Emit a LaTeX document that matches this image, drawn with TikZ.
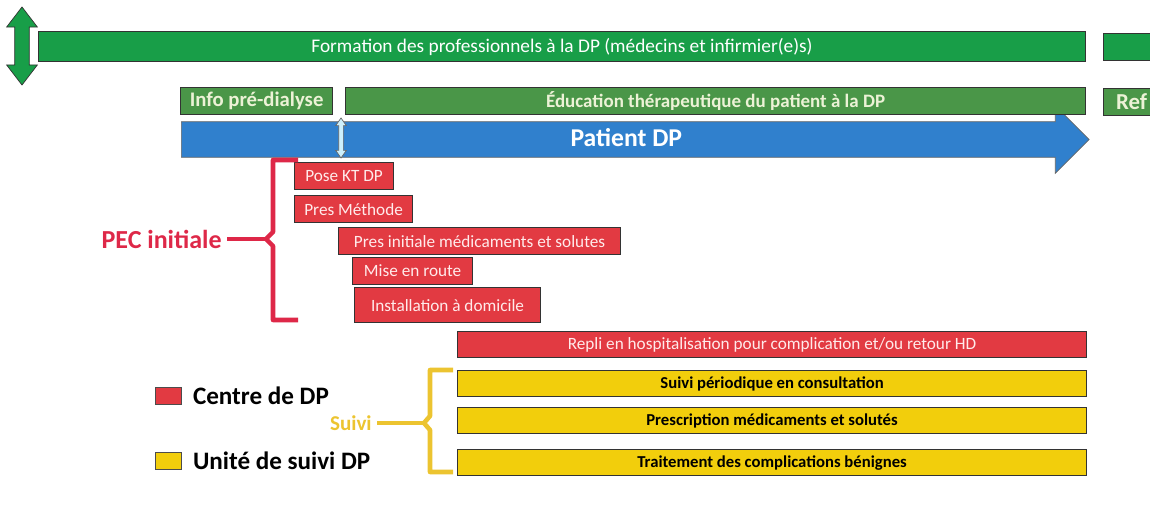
\documentclass[tikz,border=0pt]{standalone}
\usepackage{fontspec}
\setmainfont{Carlito}
\usetikzlibrary{shapes.arrows,positioning}
\definecolor{formgreen}{RGB}{24,158,72}
\definecolor{edugreen}{RGB}{74,150,72}
\definecolor{dpblue}{RGB}{48,128,205}
\definecolor{dpred}{RGB}{226,58,66}
\definecolor{dpyellow}{RGB}{242,206,12}
\definecolor{pecred}{RGB}{222,40,72}
\definecolor{suiviyellow}{RGB}{236,196,48}
\definecolor{lighttxt}{RGB}{236,242,214}

\begin{document}
\begin{tikzpicture}[x=0.02cm, y=-0.02cm,
  bar/.style={draw=black!80, line width=0.7pt, inner sep=0, anchor=north west, minimum height=0.54cm},
  formbar/.style={bar, fill=formgreen, text=white, minimum height=0.6cm, font=\fontsize{11}{13}\selectfont},
  greenbar/.style={bar, fill=edugreen, text=lighttxt, font=\fontsize{10.8}{12}\selectfont\bfseries},
  centre/.style={bar, fill=dpred, text=red!8, font=\fontsize{9.8}{11}\selectfont},
  unite/.style={bar, fill=dpyellow, text=black, minimum width=12.58cm, minimum height=0.52cm, font=\fontsize{9.5}{11}\selectfont\bfseries},
  key/.style={draw=black!70, minimum width=0.52cm, minimum height=0.34cm, inner sep=0, anchor=north west},
  legend/.style={anchor=west, inner sep=0, font=\fontsize{14.3}{16}\selectfont\bfseries},
  brace/.style={line width=2.6pt, line join=round},
  tag/.style={anchor=east, inner sep=0.1cm, font=\fontsize{14.8}{16}\selectfont\bfseries}
]
\useasboundingbox (0,0) rectangle (1150,524);
\clip (0,0) rectangle (1150,524);

\node[double arrow, rotate=90, draw=black!80, fill=formgreen, minimum height=1.56cm, inner xsep=0, inner ysep=0.14cm,
      double arrow head extend=0.16cm, double arrow tip angle=75] (span) at (22,46) {};
\node[formbar, minimum width=20.94cm] (form) at (38,31) {Formation des professionnels à la DP (médecins et infirmier(e)s)};
\node[formbar, minimum width=1.4cm, minimum height=0.54cm] (form2) at (1103,33) {};

\node[single arrow, anchor=tail, fill=dpblue, draw=black!60, text=white, font=\fontsize{14.6}{16}\selectfont\bfseries,
      minimum height=18.16cm, text height=0.34cm, text depth=0.06cm, inner xsep=0, inner ysep=0.15cm,
      single arrow head extend=0.32cm] (patient) at (181,139.5) {Patient DP};

\node[greenbar, minimum width=3.04cm, font=\fontsize{11.8}{13}\selectfont\bfseries] (info) at (180,87) {Info pré-dialyse};
\node[greenbar, minimum width=14.8cm] (edu) at (345,87) {Éducation thérapeutique du patient à la DP};
\node[greenbar, minimum width=1.4cm, text width=0.9cm, align=left, font=\fontsize{13}{14}\selectfont\bfseries] (ref) at (1103,88) {Ref};

\node[double arrow, rotate=90, draw=black!60, fill=cyan!20, minimum height=0.8cm, inner xsep=0, inner ysep=0.04cm,
      double arrow head extend=0.06cm, double arrow tip angle=70] (start) at (341,138) {};

\node[centre, minimum width=1.98cm] (kt) at (294,162) {Pose KT DP};
\node[centre, minimum width=2.36cm] (meth) at (294,195) {Pres Méthode};
\node[centre, minimum width=5.64cm] (presinit) at (338,227) {Pres initiale médicaments et solutes};
\node[centre, minimum width=2.4cm] (route) at (352,257) {Mise en route};
\node[centre, minimum width=3.72cm, minimum height=0.7cm] (install) at (354,287) {Installation à domicile};
\node[centre, minimum width=12.58cm, minimum height=0.52cm] (repli) at (457,331) {Repli en hospitalisation pour complication et/ou retour HD};

\node[unite] (consult) at (457,370) {Suivi périodique en consultation};
\node[unite] (presc) at (457,407) {Prescription médicaments et solutés};
\node[unite] (trait) at (457,449) {Traitement des complications bénignes};

\coordinate (pecmid) at (266,239);
\draw[brace, pecred] (298,160) -- (273,160) -- (273,232) -- (pecmid) -- (273,246) -- (273,320) -- (298,320);
\node[tag, text=pecred] (pec) at (227,239) {PEC initiale};
\draw[brace, pecred] (pec) -- (pecmid);

\coordinate (suivimid) at (424,423);
\draw[brace, suiviyellow] (453,370) -- (430,370) -- (430,416) -- (suivimid) -- (430,430) -- (430,472) -- (453,472);
\node[tag, text=suiviyellow, font=\fontsize{12}{14}\selectfont\bfseries] (suivi) at (377,423) {Suivi};
\draw[brace, suiviyellow] (suivi) -- (suivimid);

\node[key, fill=dpred] (keyred) at (155,387) {};
\node[legend, right=0.22cm of keyred] (keyredtxt) {Centre de DP};
\node[key, fill=dpyellow] (keyyellow) at (155,452) {};
\node[legend, right=0.22cm of keyyellow] (keyyellowtxt) {Unité de suivi DP};
\end{tikzpicture}
\end{document}
